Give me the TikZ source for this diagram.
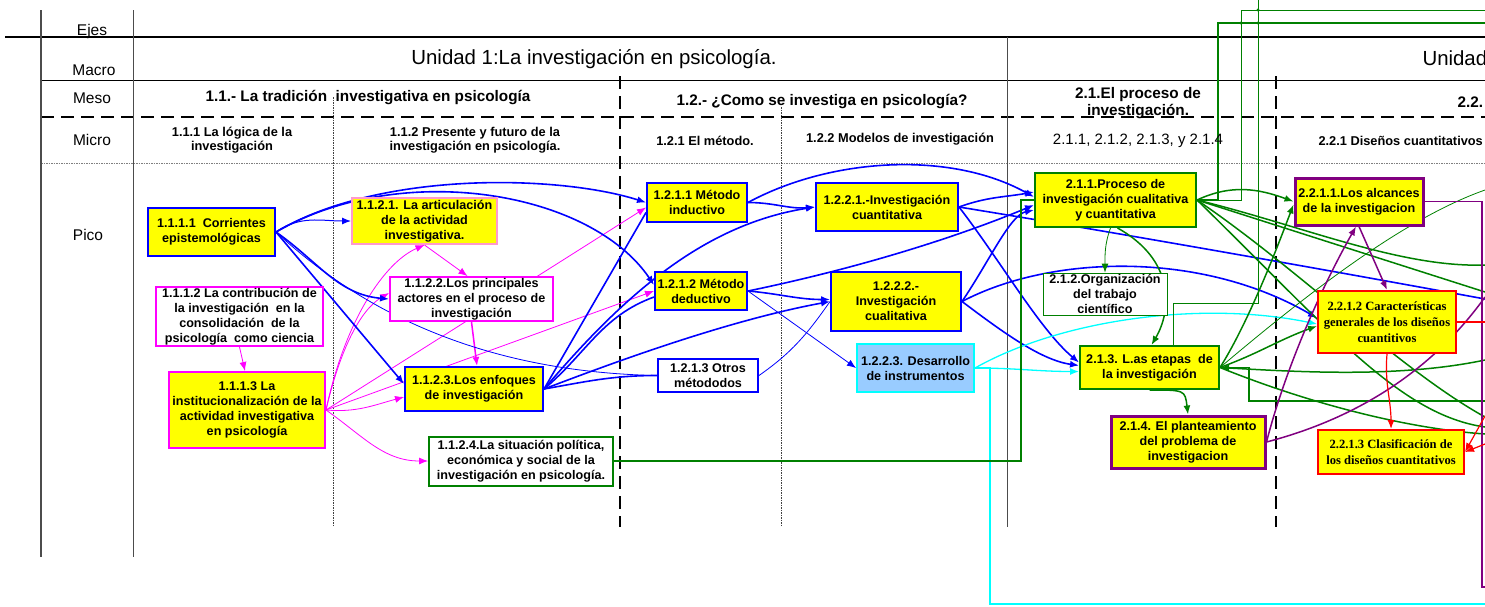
\documentclass[tikz,border=0pt]{standalone}
\usepackage{fontspec}
\setmainfont{Liberation Sans}
\newfontfamily\timesf{Liberation Serif}
\usetikzlibrary{arrows.meta, backgrounds}
\definecolor{dgreen}{RGB}{0,128,0}
\definecolor{dpurple}{RGB}{128,0,128}
\definecolor{lblue}{RGB}{153,204,255}
\definecolor{lpink}{RGB}{255,153,204}
\definecolor{yel}{RGB}{255,255,0}
\definecolor{fuchsia}{RGB}{255,0,255}
\definecolor{aqua}{RGB}{0,255,255}
\definecolor{bblue}{RGB}{0,0,255}
\definecolor{rred}{RGB}{255,0,0}

\begin{document}
\begin{tikzpicture}[x=1pt, y=-1pt,
        bx/.style={rectangle, draw, line width=2pt, align=center, inner sep=1pt,
                   font=\bfseries\fontsize{12.6}{15}\selectfont},
        yb/.style={bx, fill=yel},
        wb/.style={bx, fill=white},
        tb/.style={yb, draw=rred, font=\timesf\bfseries\fontsize{12.6}{16}\selectfont},
        sz/.style 2 args={minimum width=#1, minimum height=#2},
        lbl/.style={font=\fontsize{15.5}{17}\selectfont},
        mes/.style={font=\bfseries\fontsize{15.3}{17}\selectfont, align=center},
        mic/.style={font=\bfseries\fontsize{12.8}{14}\selectfont, align=center},
        arr/.style={-{Latex[length=9pt,width=7pt]}},
        bl/.style={bblue, line width=1.6pt},
        blt/.style={bblue, line width=.8pt},
        gr/.style={dgreen, line width=1.5pt},
        grt/.style={dgreen, line width=.8pt},
        mg/.style={fuchsia, line width=.8pt},
        pu/.style={dpurple, line width=1.5pt},
        rd/.style={rred, line width=1.2pt},
        cy/.style={aqua, line width=1.3pt},
        gline/.style={line width=.8pt, black!70},
        dsh/.style={line width=1.4pt, dash pattern=on 13pt off 7pt},
        dotl/.style={line width=.6pt, black!75, dash pattern=on 1.5pt off 1pt}]
\useasboundingbox (0,0) rectangle (1485,606);

% row labels
\node[lbl] (ejes) at (92,31) {Ejes};
\node[lbl] (macro) at (94,70) {Macro};
\node[lbl] (meso) at (92,98) {Meso};
\node[lbl] (micro) at (92,140) {Micro};
\node[lbl] (pico) at (88,235) {Pico};

% headers
\node[font=\fontsize{20.4}{24}\selectfont] (u1) at (594,59) {Unidad 1:La investigación en psicología.};
\node[font=\fontsize{20.4}{24}\selectfont, anchor=west] (u2) at (1419,58) {Unidad};
\node[mes] (m11) at (368,98) {1.1.- La tradición\ \ investigativa en psicología};
\node[mes] (m12) at (822,102) {1.2.- ¿Como se investiga en psicología?};
\node[mes] (m21) at (1138,103) {2.1.El proceso de\\investigación.};
\node[mes, anchor=west] (m22) at (1454,102) {2.2.};
\node[mic] (k111) at (232,140) {1.1.1 La lógica de la\\investigación};
\node[mic] (k112) at (475,140) {1.1.2 Presente y futuro de la\\investigación en psicología.};
\node[mic] (k121) at (705,141) {1.2.1 El método.};
\node[mic] (k122) at (900,139) {1.2.2 Modelos de investigación};
\node[font=\fontsize{15}{17}\selectfont] (k21) at (1138,141) {2.1.1, 2.1.2, 2.1.3, y 2.1.4};
\node[mic, anchor=west] (k221) at (1315,141) {2.2.1 Diseños cuantitativos};

% boxes
\node[yb, sz={127}{48}, draw=bblue] (c1111) at (211.5,232) {1.1.1.1\ \ Corrientes\\epistemológicas};
\node[wb, sz={167}{59}, draw=fuchsia] (c1112) at (239.5,316.5) {1.1.1.2 La contribución de\\la investigación\ \ en la\\consolidación\ \ de la\\psicología\ \ como ciencia};
\node[yb, sz={156}{76}, draw=fuchsia] (c1113) at (247,410) {1.1.1.3 La\\institucionalización de la\\actividad investigativa\\en psicología};
\node[yb, sz={145}{46}, draw=lpink] (c1121) at (424.5,221) {1.1.2.1. La articulación\\de la actividad\\investigativa.};
\node[wb, sz={163}{44}, draw=fuchsia] (c1122) at (471.5,299) {1.1.2.2.Los principales\\actores en el proceso de\\investigación};
\node[yb, sz={138}{44}, draw=bblue] (c1123) at (474,389) {1.1.2.3.Los enfoques\\de investigación};
\node[wb, sz={184}{49}, draw=dgreen] (c1124) at (521,461) {1.1.2.4.La situación política,\\económica y social de la\\investigación en psicología.};
\node[yb, sz={100}{39}, draw=bblue] (c1211) at (697,202.5) {1.2.1.1 Método\\inductivo};
\node[yb, sz={92}{38}, draw=bblue] (c1212) at (701,291) {1.2.1.2 Método\\deductivo};
\node[wb, sz={100}{33}, draw=bblue] (c1213) at (708,375.5) {1.2.1.3 Otros\\métododos};
\node[yb, sz={142}{48}, draw=bblue] (c1221) at (887,207) {1.2.2.1.-Investigación\\cuantitativa};
\node[yb, sz={130}{59}, draw=bblue] (c1222) at (896,301.5) {1.2.2.2.-\\Investigación\\cualitativa};
\node[bx, sz={117}{48}, fill=lblue, draw=aqua] (c1223) at (915.5,368) {1.2.2.3. Desarrollo\\de instrumentos};
\node[yb, sz={161}{54}, draw=dgreen] (c211) at (1115.5,200) {2.1.1.Proceso de\\investigación cualitativa\\y cuantitativa};
\node[wb, sz={124}{42}, draw=dgreen, line width=.8pt] (c212) at (1105,294) {2.1.2.Organización\\del trabajo\\científico};
\node[yb, sz={139}{43}, draw=dgreen] (c213) at (1149.5,367.5) {2.1.3. L.as etapas\ \ de\\la investigación};
\node[yb, sz={154}{52}, draw=dpurple, line width=3pt] (c214) at (1188,442) {2.1.4. El planteamiento\\del problema de\\investigacion};
\node[yb, sz={128}{47}, draw=dpurple, line width=3pt] (c2211) at (1359,201.5) {2.2.1.1.Los alcances\\de la investigacion};
\node[tb, sz={138}{62}] (c2212) at (1387,322) {2.2.1.2 Características\\generales de los diseños\\cuantitivos};
\node[tb, sz={146}{44}] (c2213) at (1391,452) {2.2.1.3 Clasificación de\\los diseños cuantitativos};

% free ends at the right and top edges
\coordinate (rB) at (1485,299);
\coordinate (rC) at (1485,604);
\coordinate (rG1) at (1485,23);
\coordinate (rG2) at (1485,10);
\coordinate (rG3) at (1258,0);
\coordinate (rg1) at (1485,265);
\coordinate (rg2) at (1485,292);
\coordinate (rg3) at (1485,417);
\coordinate (rg4) at (1485,427);
\coordinate (rg5) at (1485,190);
\coordinate (rg6) at (1485,360);
\coordinate (rg7) at (1485,434);
\coordinate (rg8) at (1485,401);
\coordinate (rp1) at (1485,297);
\coordinate (rp2) at (1485,587);
\coordinate (rr1) at (1485,322);
\coordinate (rr2) at (1485,416);
\coordinate (rr3) at (1485,444);

\begin{pgfonlayer}{background}
% table rules
\draw[line width=1.2pt] (5,37) -- (1485,37);
\draw[line width=1pt] (41,80) -- (1485,80);
\draw[dsh] (41,117) -- (1485,117);
\draw[gray, line width=.8pt, dash pattern=on 1.5pt off 1pt] (41,163) -- (1485,163);
\draw[gline, line width=1.2pt] (41,10) -- (41,557);
\draw[gline] (133,10) -- (133,557);
\draw[gline] (1007,37) -- (1007,527);
\draw[dotl] (333,97) -- (333,527);
\draw[dotl] (781,107) -- (781,527);
\draw[dsh, line width=1.2pt] (620,76) -- (620,527);
\draw[dsh, line width=1.2pt] (1276,76) -- (1276,527);

% magenta
\draw[mg, arr] (c1112.south) -- ([xshift=-2pt]c1113.north);
\draw[mg, arr] (c1121.south) -- ([xshift=-4pt]c1122.north);
\draw[mg, arr, line width=1.5pt] (c1122.south) -- ([xshift=3pt]c1123.north);
\draw[mg, arr] (c1113.east) .. controls (345,320) and (385,262) .. (c1121.south);
\draw[mg, arr] (c1113.east) .. controls (340,350) and (360,310) .. ([yshift=6pt]c1122.west);
\draw[mg, arr] (c1113.east) -- ([yshift=-5pt]c1211.west);
\draw[mg, arr] (c1113.east) -- (c1212.west);
\draw[mg, arr] (c1113.east) to[out=-5, in=195] ([yshift=-8pt]c1123.west);
\draw[mg, arr] (c1113.east) to[out=-35, in=180] (c1124.west);

% blue
\draw[bblue, line width=1pt, arr] (c1111.east) to[out=35, in=180] (c1121.west);
\draw[bl, arr] (c1111.east) .. controls (380,170) and (560,175) .. (c1211.west);
\draw[bl, arr] (c1111.east) .. controls (400,160) and (590,190) .. ([yshift=6pt]c1212.west);
\draw[bl, arr] (c1111.east) to[out=-35, in=175] (c1122.west);
\draw[bl, arr] (c1111.east) -- ([yshift=5pt]c1123.west);
\draw[blt] (c1111.east) .. controls (360,310) and (480,372) .. (c1213.west);
\draw[bl] (c1123.east) -- ([yshift=-10pt]c1211.west);
\draw[bl] (c1123.east) to[out=40, in=200] ([yshift=-6pt]c1212.west);
\draw[bl, arr] (c1123.east) .. controls (620,300) and (700,225) .. (c1221.west);
\draw[bl, arr] (c1123.east) .. controls (620,360) and (730,320) .. (c1222.west);
\draw[bl] (c1123.east) to[out=10, in=180] (c1213.west);
\draw[bl, arr] (c1211.east) to[out=0, in=185] (c1221.west);
\draw[bl, arr] (c1211.east) .. controls (830,158) and (950,150) .. ([yshift=3pt]c211.west);
\draw[bl, arr] (c1212.east) to[out=-5, in=180] ([yshift=2pt]c1222.west);
\draw[bl, arr] (c1212.east) .. controls (850,270) and (950,240) .. ([yshift=-5pt]c211.west);
\draw[blt, arr] (c1212.east) -- (c1223.west);
\draw[blt] (c1213.east) to[out=35, in=235] (c1222.west);
\draw[bl, arr] (c1221.east) to[out=20, in=190] ([yshift=8pt]c211.west);
\draw[bl, arr] (c1221.east) .. controls (1000,260) and (1040,330) .. ([yshift=5pt]c213.west);
\draw[bl] (c1221.east) .. controls (1100,230) and (1300,265) .. (rB);
\draw[bl, arr] (c1222.east) .. controls (990,260) and (1010,215) .. ([yshift=-10pt]c211.west);
\draw[bl, arr] (c1222.east) .. controls (1000,330) and (1040,360) .. ([yshift=2pt]c213.west);
\draw[bl, arr] (c1222.east) .. controls (1050,255) and (1200,250) .. ([yshift=4pt]c2212.west);

% cyan
\draw[cy, arr] (c1223.east) to[out=0, in=180] ([yshift=-4pt]c213.west);
\draw[cy, arr] (c1223.east) .. controls (1060,320) and (1200,300) .. ([yshift=-2pt]c2212.west);
\draw[cy] (c1223.east) -- ++(15,0) |- (rC);

% green
\draw[gr] (c1124.east) -- (1021,461) -- (1021,200) -- (c211.west);
\draw[grt, arr] ([xshift=-5pt]c211.south) to[out=-110, in=90] (c212.north);
\draw[gr, arr] ([xshift=2pt]c211.south) .. controls (1175,260) and (1172,310) .. ([xshift=2pt]c213.north);
\draw[gr, arr] (c213.south) .. controls (1185,390) .. (c214.north);
\draw[gr, arr] (c211.east) to[out=25, in=160] (c2211.west);
\draw[gr] (c211.east) -- (1218,200) -- (1218,23) -- (rG1);
\draw[grt] (c211.east) -- (1241,200) -- (1241,10) -- (rG2);
\draw[grt] ([xshift=24pt]c213.north) -- (1173.5,303) -- (1258,303) -- (rG3);
\fill[dgreen] (1258,10) circle[radius=1.6pt] (1258,23) circle[radius=1.6pt] (1241,23) circle[radius=1.6pt];
\draw[gr] (c211.east) .. controls (1300,225) and (1400,268) .. (rg1);
\draw[gr] (c211.east) -- (rg2);
\draw[gr] (c211.east) .. controls (1300,270) and (1400,370) .. (rg3);
\draw[gr] (c211.east) .. controls (1330,330) and (1400,415) .. (rg4);
\draw[gr, arr] (c213.east) .. controls (1250,320) and (1280,240) .. ([yshift=-3pt]c2211.west);
\draw[gr, arr] (c213.east) to[out=20, in=200] ([yshift=-4pt]c2212.west);
\draw[grt] (c213.east) .. controls (1300,300) and (1400,220) .. (rg5);
\draw[gr, arr] (rg6) .. controls (1400,378) and (1300,372) .. (c213.east);
\draw[gr] (c213.east) .. controls (1300,400) and (1400,428) .. (rg7);
\draw[gr] (c213.east) -- (1249,367.5) -- (1249,401) -- (rg8);

% purple
\draw[pu, arr] (c214.east) .. controls (1285,370) and (1320,290) .. ([xshift=-3pt]c2211.south);
\draw[pu] (c214.east) .. controls (1370,415) and (1440,360) .. (rp1);
\draw[pu, arr] (c2211.south) -- (c2212.north);
\draw[pu, line width=1.2pt] (c2211.east) -- (1482,201.5) -- (1482,587) -- (rp2);

% red
\draw[rd, arr] (c2212.south) to[out=-95, in=90] (c2213.north);
\draw[rd, line width=1.8pt] (c2212.east) -- (rr1);
\draw[rd, arr] (rr2) -- (c2213.east);
\draw[rd, arr] (rr3) -- (c2213.east);
\end{pgfonlayer}
\end{tikzpicture}
\end{document}
